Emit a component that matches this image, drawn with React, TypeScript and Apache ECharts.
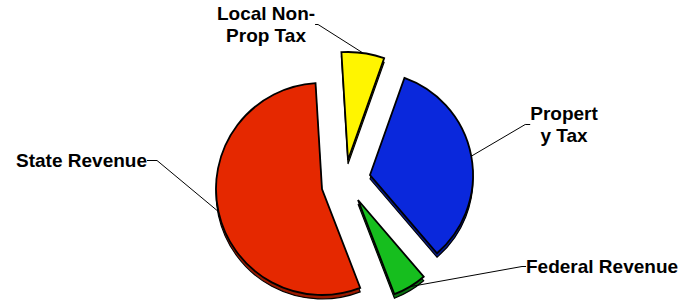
import React, { useEffect, useRef } from "react";
import * as echarts from "echarts";

// ---- data ----
const categories = ["Local Non-Prop Tax", "Property Tax", "Federal Revenue", "State Revenue"];
const labelTexts = ["Local Non-\nProp Tax", "Propert\ny Tax", "Federal Revenue", "State Revenue"];
const values = [6.4, 33.3, 5.4, 54.9];

// ---- styles / layout ----
const colors = ["#FFF500", "#0A28DC", "#16BE1E", "#E52800"];
const sideColors = ["#8C8600", "#061A8A", "#0A7010", "#9A1A00"];
const firstStartAngle = 93.5;
const centers = [
  [348, 160],
  [370, 175],
  [358, 200],
  [322, 189],
];
const radii = [108, 103, 101, 106];
const labelPos = [
  { x: 266, y: 24.5, align: "center" },
  { x: 564, y: 124.5, align: "center" },
  { x: 526, y: 266.5, align: "left" },
  { x: 147, y: 160.5, align: "right" },
];
const labelLen2 = [3, 5, 4, 10];
const depth = 4;

export default function App() {
  const ref = useRef<HTMLDivElement>(null);
  useEffect(() => {
    if (!ref.current) return;
    const chart = echarts.init(ref.current, null, { renderer: "svg" });
    const total = values.reduce((a, b) => a + b, 0);
    const starts: number[] = [];
    let acc = firstStartAngle;
    values.forEach((v) => {
      starts.push(acc);
      acc -= (v / total) * 360;
    });

    const makeSeries = (i: number, isSide: boolean) => ({
      type: "pie",
      silent: true,
      clockwise: true,
      startAngle: starts[i],
      center: [centers[i][0], centers[i][1] + (isSide ? depth : 0)],
      radius: [0, radii[i]],
      avoidLabelOverlap: false,
      emphasis: { disabled: true },
      z: isSide ? 1 : 2,
      itemStyle: {
        color: isSide ? sideColors[i] : colors[i],
        borderColor: "#000",
        borderWidth: isSide ? 1.1 : 1.8,
        borderJoin: "miter",
      },
      label: isSide
        ? { show: false }
        : {
            show: true,
            position: "outside",
            formatter: () => labelTexts[i],
            fontFamily: "'Liberation Sans', Arial, sans-serif",
            fontWeight: "bold",
            fontSize: 19,
            lineHeight: 22,
            color: "#000",
          },
      labelLine: isSide
        ? { show: false }
        : {
            show: true,
            length: 10,
            length2: labelLen2[i],
            smooth: false,
            minTurnAngle: 0,
            lineStyle: { color: "#000", width: 1 },
          },
      labelLayout: isSide
        ? undefined
        : { x: labelPos[i].x, y: labelPos[i].y, align: labelPos[i].align, verticalAlign: "middle" },
      data: [
        { name: categories[i], value: values[i] },
        {
          name: "",
          value: total - values[i],
          itemStyle: { color: "rgba(0,0,0,0)", borderWidth: 0 },
          label: { show: false },
          labelLine: { show: false },
        },
      ],
    });

    const series: any[] = [];
    values.forEach((_, i) => series.push(makeSeries(i, true)));
    values.forEach((_, i) => series.push(makeSeries(i, false)));

    chart.setOption({
      animation: false,
      backgroundColor: "#fff",
      series,
    });
    return () => chart.dispose();
  }, []);
  return (
    <div
      ref={ref}
      style={{ position: "fixed", left: 0, top: 0, width: 698, height: 303 }}
    />
  );
}
